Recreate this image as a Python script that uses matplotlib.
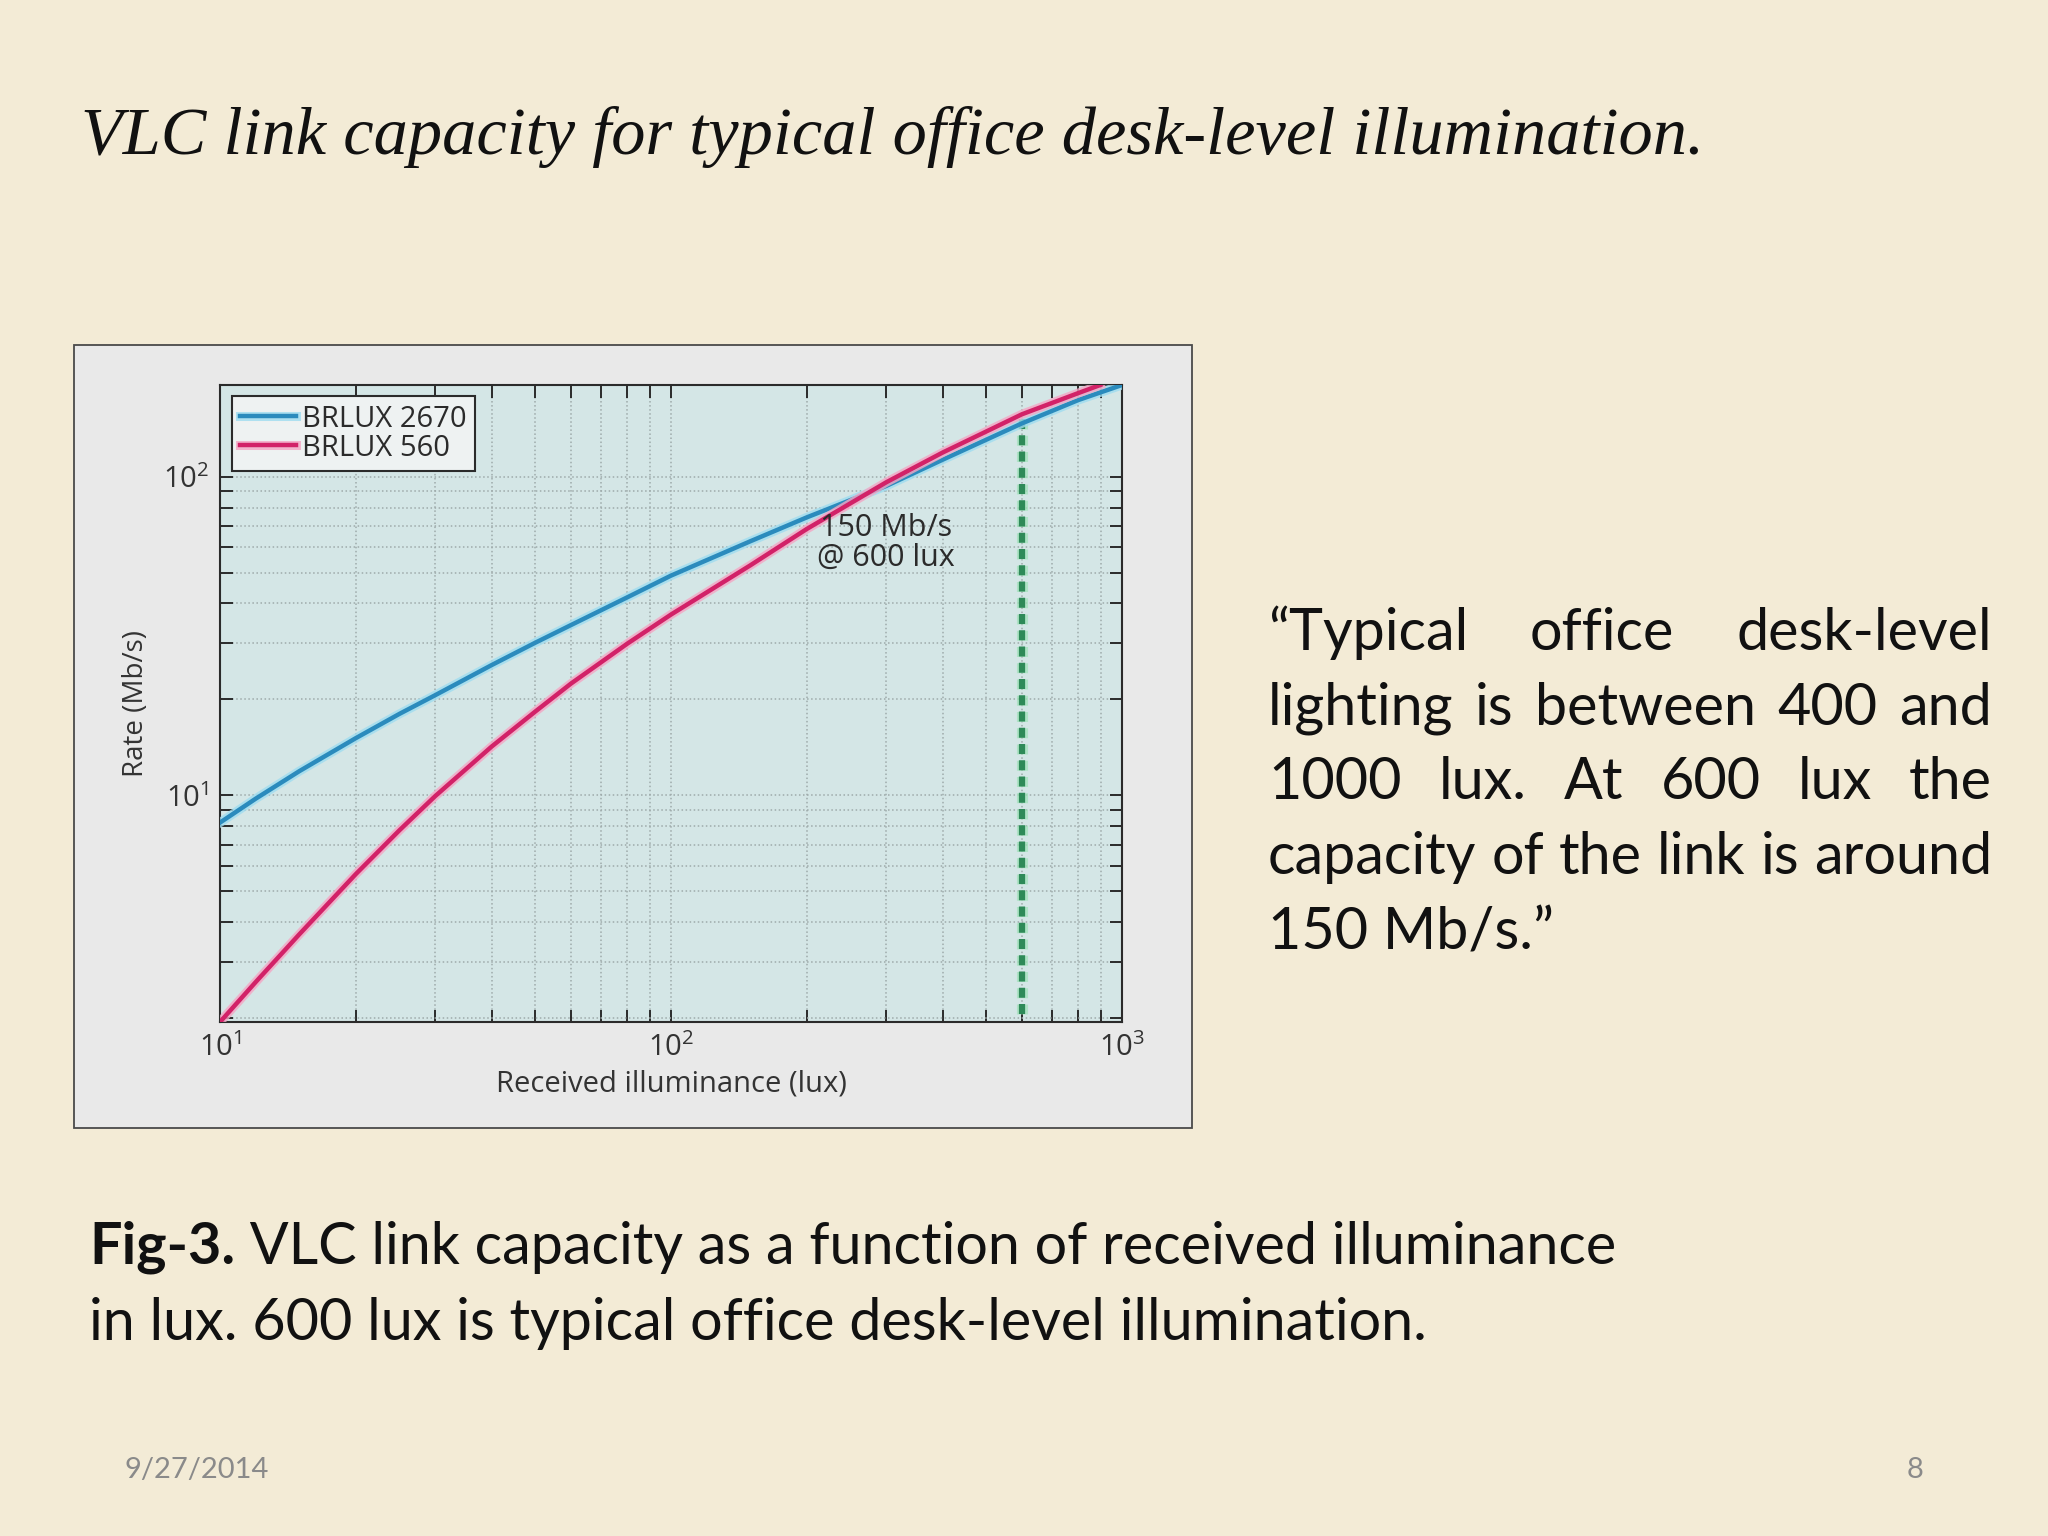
import math

import matplotlib
matplotlib.use("Agg")
import matplotlib.pyplot as plt
import matplotlib.patheffects as pe
from matplotlib.patches import Rectangle
from matplotlib.ticker import LogLocator, NullFormatter

# Values (lux -> Mb/s)
lux_2670 = [10, 12, 15, 20, 25, 30, 40, 50, 60, 80, 100, 150, 200, 300, 400, 600, 800, 1000]
rate_2670 = [8.2, 9.75, 11.9, 15.1, 18.0, 20.6, 25.6, 30.1, 34.2, 41.8, 48.9, 62.7, 74.5, 93.5, 113, 147, 174, 194]

lux_560 = [10, 12, 15, 20, 25, 30, 40, 50, 60, 80, 100, 150, 200, 300, 400, 600, 800, 895]
rate_560 = [1.94, 2.59, 3.66, 5.65, 7.76, 9.93, 14.2, 18.3, 22.4, 29.9, 36.9, 52.7, 68.5, 96, 119, 157, 183, 194]

series_labels = ["BRLUX 2670", "BRLUX 560"]
marker_lux = 600
marker_rate = [2.05, 157]

title = "VLC link capacity for typical office desk-level illumination."
quote_lines = [
    "\u201cTypical office desk-level",
    "lighting is between 400 and",
    "1000 lux. At 600 lux the",
    "capacity of the link is around",
    "150 Mb/s.\u201d",
]
caption_bold = "Fig-3."
caption_lines = [
    " VLC link capacity as a function of received illuminance",
    "in lux. 600 lux is typical office desk-level illumination.",
]
footer_date = "9/27/2014"
footer_page = "8"

W, H = 2048, 1536
BG = "#f3ebd6"
CHART_FONT = "Open Sans"
BODY_FONT = "Lato"

plt.rcParams["mathtext.fontset"] = "custom"
plt.rcParams["mathtext.rm"] = CHART_FONT
plt.rcParams["mathtext.it"] = CHART_FONT
plt.rcParams["font.family"] = [CHART_FONT, "DejaVu Sans"]

fig = plt.figure(figsize=(W / 100, H / 100), dpi=100)
fig.patch.set_facecolor(BG)


def fx(px):
    return px / W


def fy(py):
    return 1 - py / H


# grey panel behind the chart
fig.add_artist(Rectangle((fx(74), fy(1128)), fx(1192) - fx(74), fy(345) - fy(1128),
                         transform=fig.transFigure, facecolor="#e9e9e9",
                         edgecolor="#4a4a4a", lw=1.3, zorder=-1))

ax = fig.add_axes([fx(220), fy(1022), fx(1122) - fx(220), fy(385) - fy(1022)])
ax.set_facecolor("#d4e6e6")
ax.set_xscale("log")
ax.set_yscale("log")
ax.set_xlim(10, 1000)
ax.set_ylim(1.94, 194)

halo_b = [pe.Stroke(linewidth=6.5, foreground="#9fdcf0", alpha=0.8), pe.Normal()]
halo_p = [pe.Stroke(linewidth=6.5, foreground="#f4a6c4", alpha=0.8), pe.Normal()]
ax.plot(lux_2670, rate_2670, color="#2b8bbd", lw=3.2, label=series_labels[0],
        path_effects=halo_b, zorder=4)
ax.plot(lux_560, rate_560, color="#d22268", lw=3.2, label=series_labels[1],
        path_effects=halo_p, zorder=4)

ax.vlines(marker_lux, marker_rate[0], marker_rate[1], color="#2e8a58", lw=4.5,
          linestyles=(0, (1.6, 1.0)), zorder=3,
          path_effects=[pe.Stroke(linewidth=8, foreground="#9fe3b8", alpha=0.7), pe.Normal()])

ax.text(300, 77, "150 Mb/s\n@ 600 lux", fontsize=22, color="#2b2b2b",
        ha="center", va="top", multialignment="center", linespacing=1.0, zorder=5)

for axis in (ax.xaxis, ax.yaxis):
    axis.set_major_locator(LogLocator(base=10, numticks=10))
    axis.set_minor_locator(LogLocator(base=10, subs=range(2, 10), numticks=10))
    axis.set_minor_formatter(NullFormatter())
    axis.set_major_formatter(lambda v, p: "10$^{%d}$" % round(math.log10(v)))

ax.tick_params(which="both", direction="in", top=True, right=True,
               length=9, width=1.4, color="#2b2b2b", labelsize=21,
               labelcolor="#333333", pad=8)
ax.grid(True, which="both", linestyle=":", color="#9eaaaa", lw=1.1)
ax.set_axisbelow(True)
for s in ax.spines.values():
    s.set_color("#2b2b2b")
    s.set_linewidth(1.5)

ax.set_xlabel("Received illuminance (lux)", fontsize=21, color="#333333", va="center")
ax.xaxis.set_label_coords(0.5, -0.097)
ax.set_ylabel("Rate (Mb/s)", fontsize=20, color="#333333", va="center")
ax.yaxis.set_label_coords(-0.093, 0.5)

leg = ax.legend(loc="upper left", bbox_to_anchor=(0.013, 0.983), borderaxespad=0,
                fontsize=21, frameon=True, fancybox=False, handlelength=1.9,
                handletextpad=0.2, borderpad=0.3, labelspacing=0.0)
leg.get_frame().set_edgecolor("#2b2b2b")
leg.get_frame().set_linewidth(1.5)
leg.get_frame().set_facecolor("#eef2f2")
leg.get_frame().set_alpha(1)
for t in leg.get_texts():
    t.set_color("#2b2b2b")

renderer = fig.canvas.get_renderer()


def width_px(s, **kw):
    t = fig.text(0, 0, s, **kw)
    w = t.get_window_extent(renderer).width
    t.remove()
    return w


# title, italic serif fitted to the reference width
tkw = dict(family=["Liberation Serif", "DejaVu Serif"], style="italic")
tsize = 48 * (1704 - 81) / width_px(title, fontsize=48, **tkw)
fig.text(fx(81), fy(154), title, fontsize=tsize, color="#111111",
         ha="left", va="baseline", **tkw)

# justified quote on the right
bkw = dict(family=[BODY_FONT, "DejaVu Sans"])
left, right = 1268, 1992
bsize = 40 * (right - left) / width_px(quote_lines[3], fontsize=40, **bkw)
bsize = min(bsize, 44)
baselines = [650, 725, 799, 874, 949]
for i, line in enumerate(quote_lines):
    words = line.split(" ")
    if i == len(quote_lines) - 1 or len(words) == 1:
        fig.text(fx(left), fy(baselines[i]), line, fontsize=bsize, color="#111111",
                 ha="left", va="baseline", **bkw)
        continue
    widths = [width_px(w, fontsize=bsize, **bkw) for w in words]
    gap = (right - left - sum(widths)) / (len(words) - 1)
    x = left
    for w, wd in zip(words, widths):
        fig.text(fx(x), fy(baselines[i]), w, fontsize=bsize, color="#111111",
                 ha="left", va="baseline", **bkw)
        x += wd + gap

# caption
cap_x = 89
b = fig.text(fx(cap_x), fy(1264), caption_bold, fontsize=bsize, color="#111111",
             weight="bold", ha="left", va="baseline", **bkw)
bw = b.get_window_extent(renderer).width
fig.text(fx(cap_x + bw), fy(1264), caption_lines[0], fontsize=bsize, color="#111111",
         ha="left", va="baseline", **bkw)
fig.text(fx(cap_x), fy(1340), caption_lines[1], fontsize=bsize, color="#111111",
         ha="left", va="baseline", **bkw)

# footer
fig.text(fx(124), fy(1478), footer_date, fontsize=21, color="#8a8a8a",
         ha="left", va="baseline", **bkw)
fig.text(fx(1924), fy(1478), footer_page, fontsize=21, color="#8a8a8a",
         ha="right", va="baseline", **bkw)

fig.savefig("out.png", dpi=100, facecolor=BG)
